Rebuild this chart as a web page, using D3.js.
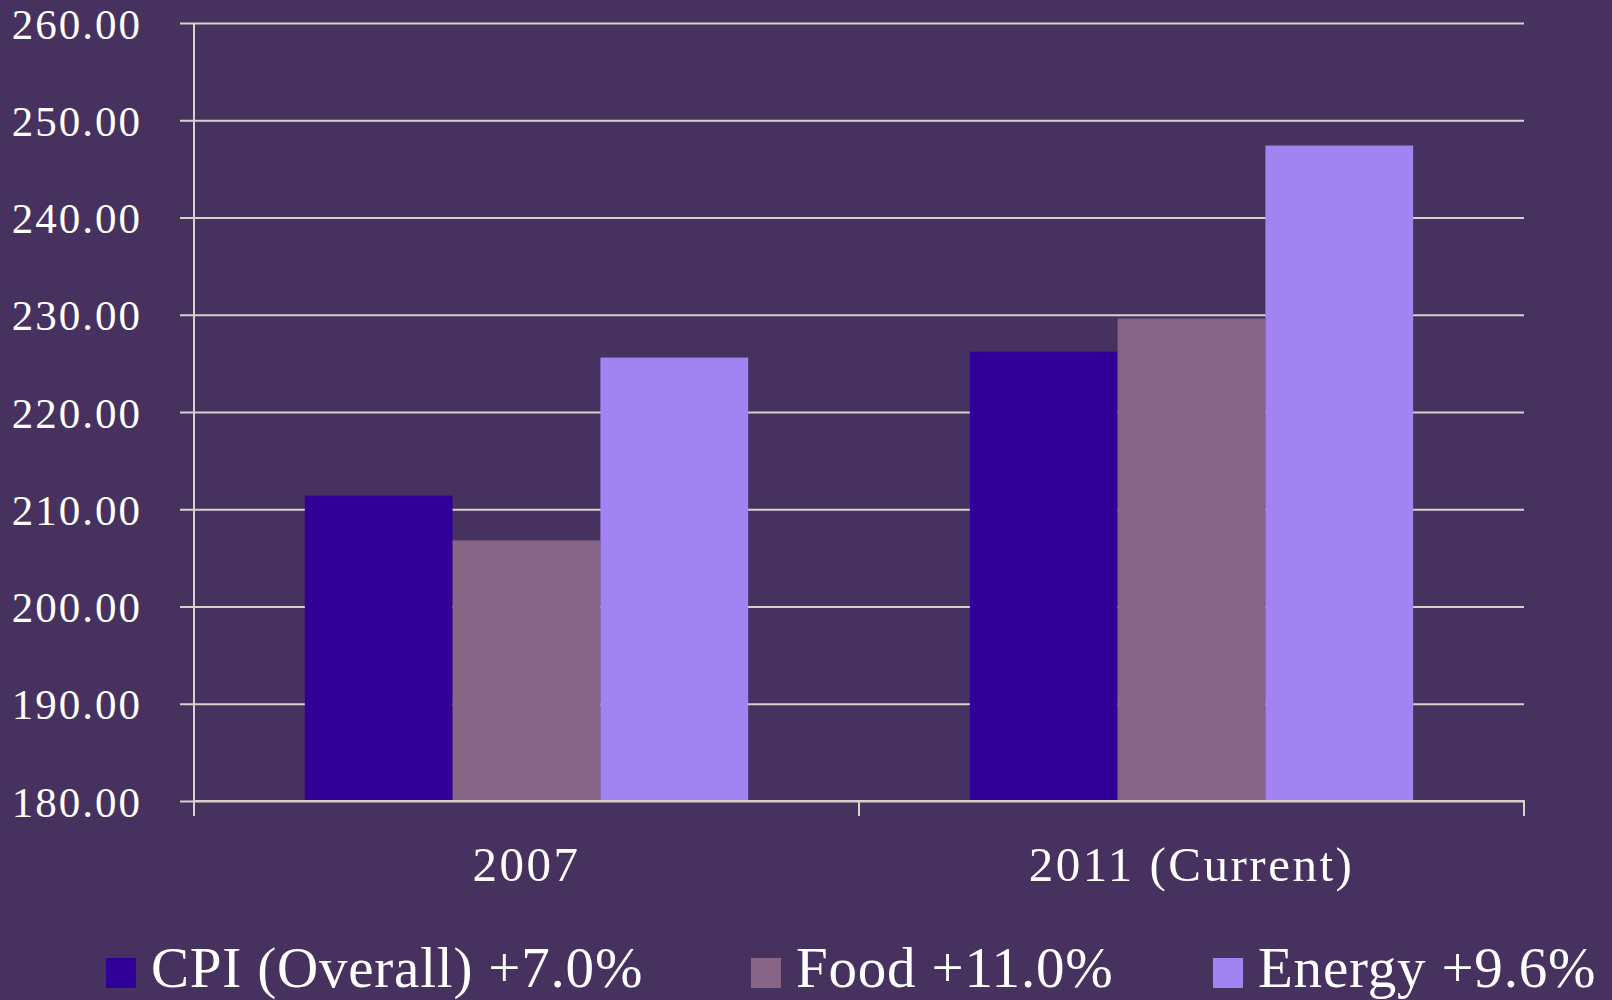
<!DOCTYPE html>
<html>
<head>
  <meta charset="utf-8">
  <style>
  body { margin: 0; background: #46315f; }
  svg { display: block; }
  .axis .domain, .axis line { stroke: #d8d2cc; stroke-width: 2; }
  .grid .domain { display: none; }
  .grid line { stroke: #d8d2cc; stroke-width: 2; }
  text { font-family: "Liberation Serif", "Times New Roman", serif; fill: #ffffff; }
  </style>
  <script src="https://d3js.org/d3.v7.min.js"></script>
</head>
<body>
<script>
  var categories = ["2007", "2011 (Current)"];
  var seriesNames = ["CPI (Overall) +7.0%", "Food +11.0%", "Energy +9.6%"];
  var cpiValues = [211.4, 226.2];
  var foodValues = [206.8, 229.6];
  var energyValues = [225.6, 247.4];
  var yTicks = [180, 190, 200, 210, 220, 230, 240, 250, 260];

  var colors = ["#310096", "#876587", "#a183f2"];
  var series = [cpiValues, foodValues, energyValues];

  var canvasWidth = 1612, canvasHeight = 1000;
  var margin = {top: 23, right: 88, bottom: 199, left: 194};
  var width = canvasWidth - margin.left - margin.right;
  var height = canvasHeight - margin.top - margin.bottom;

  var svg = d3.select("body").append("svg")
      .attr("width", canvasWidth)
      .attr("height", canvasHeight);

  svg.append("rect")
      .attr("width", canvasWidth)
      .attr("height", canvasHeight)
      .attr("fill", "#46315f");

  var g = svg.append("g")
      .attr("transform", "translate(" + margin.left + "," + margin.top + ")");

  var x0 = d3.scaleBand().domain(categories).range([0, width]).padding(0);
  var barW = x0.bandwidth() / 4.5;  // gap 150%
  var x1 = d3.scaleBand().domain(seriesNames)
      .range([barW * 0.75, x0.bandwidth() - barW * 0.75]).padding(0);
  var y = d3.scaleLinear().domain([180, 260]).range([height, 0]);

  // gridlines
  g.append("g")
      .attr("class", "grid")
      .call(d3.axisLeft(y).tickValues(yTicks).tickSize(-width).tickFormat(""));

  // bars
  g.selectAll("g.cat")
    .data(categories)
    .enter().append("g")
      .attr("class", "cat")
      .attr("transform", function(d) { return "translate(" + x0(d) + ",0)"; })
    .selectAll("rect")
    .data(function(d, i) { return seriesNames.map(function(k, j) { return {key: k, j: j, value: series[j][i]}; }); })
    .enter().append("rect")
      .attr("x", function(d) { return x1(d.key); })
      .attr("y", function(d) { return y(d.value); })
      .attr("width", x1.bandwidth())
      .attr("height", function(d) { return height - y(d.value); })
      .attr("fill", function(d) { return colors[d.j]; });

  // y axis
  var yAxis = g.append("g")
      .attr("class", "axis")
      .call(d3.axisLeft(y).tickValues(yTicks).tickSize(14).tickPadding(38).tickFormat(d3.format(".2f")));
  yAxis.select(".domain").attr("d", "M0," + height + "V0");
  yAxis.selectAll("text")
      .attr("font-size", 43)
      .attr("letter-spacing", 2)
      .attr("dy", "0.35em");

  // x axis
  var xAxis = g.append("g")
      .attr("class", "axis")
      .attr("transform", "translate(0," + height + ")")
      .call(d3.axisBottom(x0).tickSize(0).tickPadding(0));
  xAxis.select(".domain").attr("d", "M0,15V0H" + width + "V15");
  xAxis.selectAll(".tick text")
      .attr("font-size", 49)
      .attr("letter-spacing", 2.5)
      .attr("y", 80)
      .attr("dy", 0);
  xAxis.append("line")
      .attr("x1", x0(categories[1])).attr("x2", x0(categories[1]))
      .attr("y1", 0).attr("y2", 15);

  // legend
  var legendX = [106, 751, 1213];
  var legend = svg.append("g")
      .selectAll("g")
      .data(seriesNames)
      .enter().append("g")
      .attr("transform", function(d, i) { return "translate(" + legendX[i] + ",958)"; });

  legend.append("rect")
      .attr("width", 30)
      .attr("height", 30)
      .attr("fill", function(d, i) { return colors[i]; });

  legend.append("text")
      .attr("x", 45)
      .attr("y", 29)
      .attr("font-size", 57)
      .attr("letter-spacing", 0.8)
      .text(function(d) { return d; });
</script>
</body>
</html>
